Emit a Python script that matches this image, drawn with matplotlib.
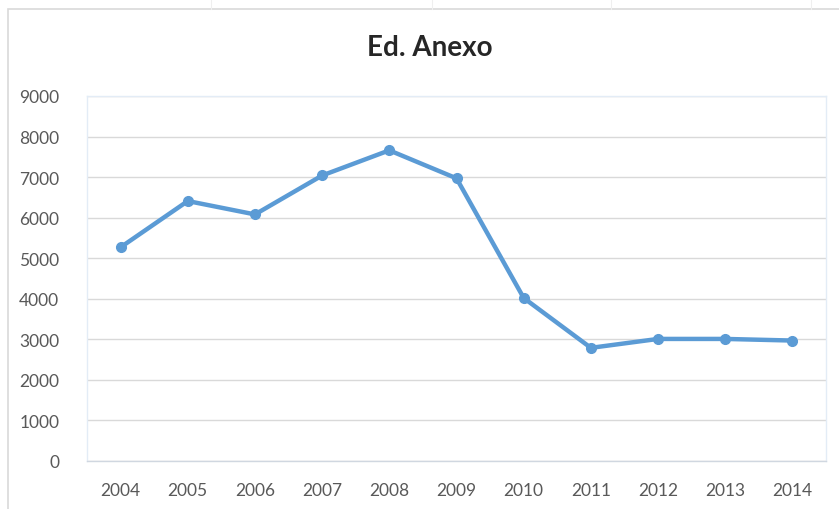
import matplotlib.pyplot as plt
from matplotlib.patches import Rectangle
from matplotlib.lines import Line2D

# Annual values for the building
years = ['2004', '2005', '2006', '2007', '2008', '2009',
         '2010', '2011', '2012', '2013', '2014']
values = [5270, 6410, 6080, 7040, 7660, 6970, 4020, 2790, 3010, 3010, 2970]

plt.rcParams['font.family'] = ['Lato', 'DejaVu Sans']

fig = plt.figure(figsize=(8.39, 5.10), dpi=100)
ax = fig.add_axes([87 / 839, 1 - 462 / 510, 739 / 839, 365 / 510])

# chart frame
fig.patches.append(Rectangle((8 / 839, -0.1), 1.2, 1 - 10 / 510 + 0.1,
                             transform=fig.transFigure, fill=False,
                             edgecolor='#D9D9D9', lw=1.2))
# cell borders above the frame
for cx in [211, 432, 611, 811]:
    fig.lines.append(Line2D([cx / 839, cx / 839], [1 - 10 / 510, 1],
                            transform=fig.transFigure, color='#EFEFEF', lw=0.8))

x = range(len(years))
ax.plot(x, values, color='#5B9BD5', lw=3.2, marker='o', markersize=7,
        solid_capstyle='round', zorder=3)

ax.set_xlim(-0.5, len(years) - 0.5)
ax.set_ylim(0, 9000)
ax.set_yticks(range(0, 9001, 1000))
ax.set_xticks(list(x))
ax.set_xticklabels(years)
ax.yaxis.grid(True, color='#D9D9D9', lw=1)
ax.set_axisbelow(True)

for side in ['top', 'left', 'right']:
    ax.spines[side].set_color('#E3ECF6')
    ax.spines[side].set_linewidth(1)
ax.spines['bottom'].set_color('#D0D7E0')
ax.spines['bottom'].set_linewidth(1)

ax.tick_params(axis='both', length=0, labelsize=12.5, colors='#595959')
ax.tick_params(axis='y', pad=20)
ax.tick_params(axis='x', pad=15)

fig.text(430 / 839, 1 - 48 / 510, 'Ed. Anexo', ha='center', va='center',
         fontsize=20, fontweight='bold', color='#262626')

fig.savefig('out.png', dpi=100)
